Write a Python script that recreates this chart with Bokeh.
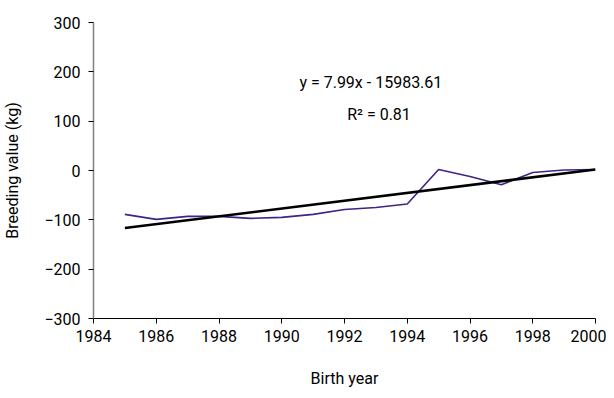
import numpy as np
from bokeh.plotting import figure
from bokeh.models import Range1d, FixedTicker, Label
from bokeh.embed import file_html
from bokeh.resources import INLINE

years = [1985, 1986, 1987, 1988, 1989, 1990, 1991, 1992, 1993, 1994, 1995, 1996, 1997, 1998, 1999, 2000]
breeding_value = [-89, -99, -93, -93, -97, -95, -89, -79, -75, -68, 2, -12, -29, -4, 1, 2]
x_ticks = [1984, 1986, 1988, 1990, 1992, 1994, 1996, 1998, 2000]
y_ticks = [-300, -200, -100, 0, 100, 200, 300]
equation_text = "y = 7.99x - 15983.61"
r2_text = "R² = 0.81"

FONT = "Roboto"
FS = "16px"

p = figure(width=606, height=390, output_backend="svg", toolbar_location=None,
           x_range=Range1d(1984, 2000), y_range=Range1d(-300, 300),
           min_border_left=92, min_border_right=11, min_border_top=22, min_border_bottom=68)
p.grid.visible = False
p.outline_line_color = None
p.background_fill_color = "white"
p.border_fill_color = "white"

p.line(years, breeding_value, line_color="#3f2386", line_width=1.6)

slope, intercept = np.polyfit(years, breeding_value, 1)
tx = [years[0], years[-1]]
ty = [slope * t + intercept for t in tx]
p.line(tx, ty, line_color="black", line_width=2.6)

p.xaxis.ticker = FixedTicker(ticks=x_ticks)
p.yaxis.ticker = FixedTicker(ticks=y_ticks)
for ax in (p.xaxis, p.yaxis):
    ax.minor_tick_line_color = None
    ax.major_tick_in = 0
    ax.major_tick_out = 5
    ax.major_label_text_font = FONT
    ax.major_label_text_font_size = FS
    ax.major_label_text_color = "black"
    ax.axis_label_text_font = FONT
    ax.axis_label_text_font_size = FS
    ax.axis_label_text_font_style = "normal"
    ax.axis_label_text_color = "black"
p.yaxis.axis_line_color = "#808080"
p.yaxis.axis_line_width = 1.5
p.yaxis.major_tick_line_color = "black"
p.xaxis.axis_line_color = "black"
p.xaxis.axis_line_width = 1.2
p.xaxis.major_label_standoff = 6
p.yaxis.major_label_standoff = 8
p.xaxis.axis_label = "Birth year"
p.yaxis.axis_label = "Breeding value (kg)"
p.xaxis.axis_label_standoff = 24
p.yaxis.axis_label_standoff = 19

p.add_layout(Label(x=1992.84, y=178, text=equation_text, text_align="center", text_baseline="middle",
                   text_font=FONT, text_font_size=FS, text_color="black"))
p.add_layout(Label(x=1993.1, y=113, text=r2_text, text_align="center", text_baseline="middle",
                   text_font=FONT, text_font_size=FS, text_color="black"))

open("out.html", "w").write(file_html(p, INLINE))
